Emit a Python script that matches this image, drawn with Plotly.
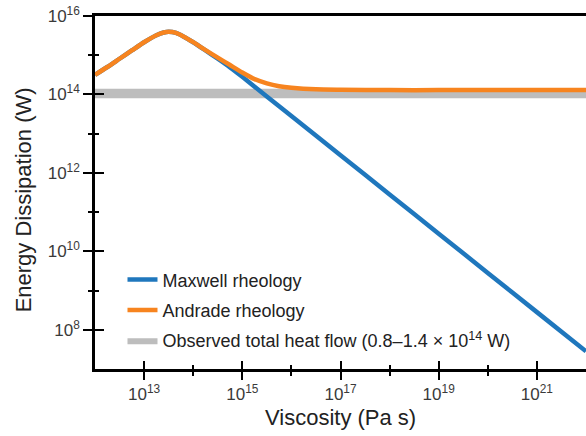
import plotly.graph_objects as go

# ---- data ----
maxwell_visc = [1e12, 1.78e12, 3.16e12, 5.62e12, 1e13, 1.78e13, 2.51e13, 3.16e13,
                4.47e13, 6.31e13, 1e14, 1.78e14, 3.16e14, 5.62e14, 1e15, 1.78e15,
                3.16e15, 1e16, 1e17, 1e18, 1e19, 1e20, 1e21, 1e22]
maxwell_power = [3.16e14, 5.01e14, 8.13e14, 1.32e15, 2.14e15, 3.24e15, 3.80e15, 3.98e15,
                 3.72e15, 3.02e15, 2.14e15, 1.32e15, 8.13e14, 4.90e14, 2.82e14, 1.58e14,
                 8.91e13, 2.82e13, 2.82e12, 2.82e11, 2.82e10, 2.82e9, 2.82e8, 2.82e7]

andrade_visc = [1e12, 1.78e12, 3.16e12, 5.62e12, 1e13, 1.78e13, 2.51e13, 3.16e13,
                4.47e13, 6.31e13, 1e14, 1.78e14, 3.16e14, 5.62e14, 1e15, 1.78e15,
                3.16e15, 5.62e15, 1e16, 3.16e16, 1e17, 1e18, 1e19, 1e20, 1e21, 1e22]
andrade_power = [3.16e14, 5.01e14, 8.13e14, 1.32e15, 2.14e15, 3.24e15, 3.80e15, 3.98e15,
                 3.72e15, 3.02e15, 2.15e15, 1.35e15, 8.71e14, 5.62e14, 3.63e14, 2.45e14,
                 1.91e14, 1.62e14, 1.48e14, 1.35e14, 1.32e14, 1.29e14, 1.29e14, 1.29e14,
                 1.29e14, 1.29e14]

heat_visc = [1e12, 1e22]
heat_low = [0.8e14, 0.8e14]
heat_high = [1.4e14, 1.4e14]

x_major = [1e13, 1e15, 1e17, 1e19, 1e21]
x_major_text = ["10<sup>13</sup>", "10<sup>15</sup>", "10<sup>17</sup>",
                "10<sup>19</sup>", "10<sup>21</sup>"]
x_minor = [1e14, 1e16, 1e18, 1e20]
y_major = [1e8, 1e10, 1e12, 1e14, 1e16]
y_major_text = ["10<sup>8</sup>", "10<sup>10</sup>", "10<sup>12</sup>",
                "10<sup>14</sup>", "10<sup>16</sup>"]
y_minor = [1e9, 1e11, 1e13, 1e15]

BLUE = "#1f77bd"
ORANGE = "#f7841f"
GREY = "#bdbdbd"
FONT = "Liberation Sans, Arial, sans-serif"

fig = go.Figure()
fig.add_trace(go.Scatter(x=heat_visc, y=heat_low, mode="lines", line=dict(width=0, color=GREY),
                         showlegend=False, hoverinfo="skip", legendgroup="g3", legendrank=3))
fig.add_trace(go.Scatter(x=heat_visc, y=heat_high, mode="lines", line=dict(width=0, color=GREY),
                         fill="tonexty", fillcolor=GREY, legendgroup="g3", legendrank=3,
                         name="Observed total heat flow (0.8–1.4 × 10<sup>14</sup> W)"))
fig.add_trace(go.Scatter(x=maxwell_visc, y=maxwell_power, mode="lines", name="Maxwell rheology",
                         line=dict(color=BLUE, width=4.5, shape="spline", smoothing=0.6),
                         legendgroup="g1", legendrank=1))
fig.add_trace(go.Scatter(x=andrade_visc, y=andrade_power, mode="lines", name="Andrade rheology",
                         line=dict(color=ORANGE, width=4.5, shape="spline", smoothing=0.6),
                         legendgroup="g2", legendrank=2))
# empty trace to activate the overlay axes used for inward ticks
fig.add_trace(go.Scatter(x=[], y=[], xaxis="x2", yaxis="y2", showlegend=False))

common = dict(type="log", showgrid=False, zeroline=False, linecolor="black", linewidth=2.5,
              tickcolor="black", tickwidth=2)
fig.update_layout(
    width=586, height=436,
    margin=dict(l=95, r=0, t=16, b=67),
    plot_bgcolor="white", paper_bgcolor="white",
    font=dict(family=FONT, color="#333333"),
    xaxis=dict(**common, range=[12, 22], tickvals=x_major, ticktext=x_major_text,
               ticks="outside", ticklen=8, showline=True, mirror=True,
               tickfont=dict(size=17, color="#3a3a3a"),
               minor=dict(tickvals=x_minor, ticks="outside", ticklen=4, tickwidth=2,
                          tickcolor="black")),
    yaxis=dict(**common, range=[7, 16], tickvals=y_major, ticktext=y_major_text,
               ticks="outside", ticklen=9, showline=True,
               tickfont=dict(size=17, color="#3a3a3a"),
               minor=dict(tickvals=y_minor, ticks="outside", ticklen=4, tickwidth=2,
                          tickcolor="black")),
    xaxis2=dict(**common, range=[12, 22], overlaying="x", anchor="y", tickvals=x_major,
                ticks="inside", ticklen=8, showticklabels=False, showline=False,
                minor=dict(tickvals=x_minor, ticks="inside", ticklen=4, tickwidth=2,
                           tickcolor="black")),
    yaxis2=dict(**common, range=[7, 16], overlaying="y", anchor="x", tickvals=y_major,
                ticks="inside", ticklen=9, showticklabels=False, showline=False,
                minor=dict(tickvals=y_minor, ticks="inside", ticklen=4, tickwidth=2,
                           tickcolor="black")),
    legend=dict(x=0.056, y=0.305, xanchor="left", yanchor="top", bgcolor="rgba(0,0,0,0)",
                font=dict(size=18, color="#222222", family=FONT), tracegroupgap=4,
                traceorder="grouped"),
    annotations=[
        dict(text="Viscosity (Pa s)", xref="paper", yref="paper", x=0.5, y=-0.137,
             xanchor="center", yanchor="middle", showarrow=False,
             font=dict(size=22, color="#222222", family=FONT)),
        dict(text="Energy Dissipation (W)", xref="paper", yref="paper", x=-0.145, y=0.48,
             xanchor="center", yanchor="middle", showarrow=False, textangle=-90,
             font=dict(size=22, color="#222222", family=FONT)),
    ],
)

fig.write_html("out.html")
